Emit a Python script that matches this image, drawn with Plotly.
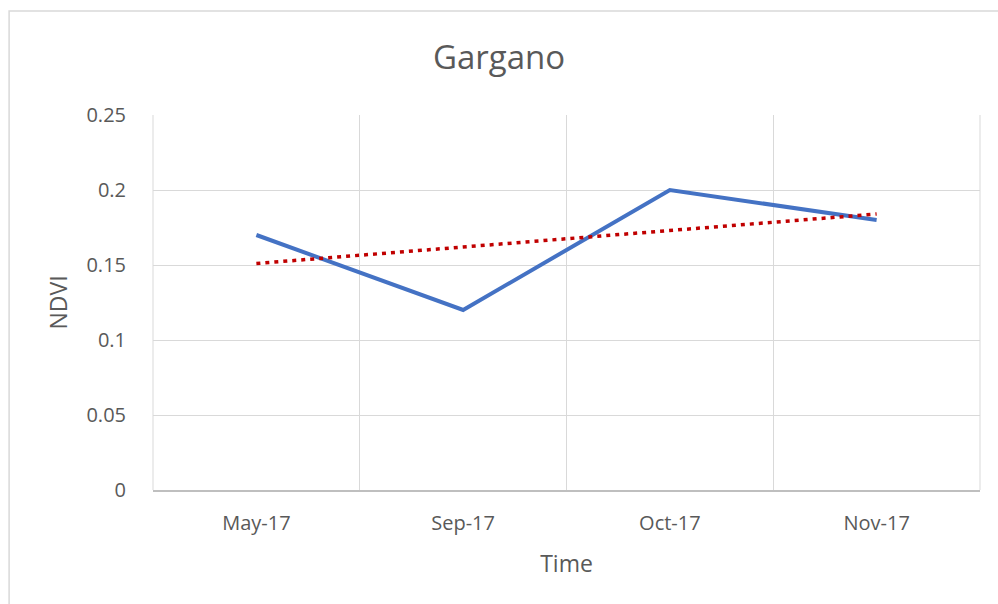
import numpy as np
import plotly.graph_objects as go

# NDVI readings for the Gargano site
months = ["May-17", "Sep-17", "Oct-17", "Nov-17"]
ndvi = [0.17, 0.12, 0.20, 0.18]
y_ticks = [0, 0.05, 0.1, 0.15, 0.2, 0.25]
y_tick_text = ["0", "0.05", "0.1", "0.15", "0.2", "0.25"]

# Linear trend fitted over category index
idx = np.arange(len(ndvi))
slope, intercept = np.polyfit(idx, ndvi, 1)
trend = slope * idx + intercept

FONT = "Open Sans"
TXT = "#595959"
GRID = "#D9D9D9"

fig = go.Figure()
fig.add_trace(go.Scatter(
    x=months, y=ndvi, mode="lines",
    line=dict(color="#4472C4", width=4),
    showlegend=False,
))
fig.add_trace(go.Scatter(
    x=months, y=list(trend), mode="lines",
    line=dict(color="#C00000", width=3.5, dash="4px,5px"),
    showlegend=False,
))

fig.update_layout(
    width=998, height=604,
    margin=dict(l=153, r=18, t=115, b=114),
    paper_bgcolor="white", plot_bgcolor="white",
    font=dict(family=FONT, color=TXT, size=20),
    title=dict(text="Gargano", x=0.5, xanchor="center", y=0.905, yanchor="middle",
               font=dict(size=33, color=TXT, family=FONT)),
    xaxis=dict(
        type="category", tickson="boundaries", range=[-0.5, 3.5],
        showgrid=True, gridcolor=GRID, gridwidth=1,
        showline=True, linecolor="#BFBFBF", linewidth=1.5, mirror=False,
        ticks="", ticklabelstandoff=14,
        tickfont=dict(size=20, color=TXT),
        title=dict(text="Time", font=dict(size=23, color=TXT), standoff=21),
        zeroline=False,
    ),
    yaxis=dict(
        range=[0, 0.25], tickvals=y_ticks, ticktext=y_tick_text,
        showgrid=True, gridcolor=GRID, gridwidth=1,
        zeroline=False, showline=False,
        ticks="outside", ticklen=22, tickcolor="rgba(0,0,0,0)",
        tickfont=dict(size=20, color=TXT),
        title=dict(text="NDVI", font=dict(size=23, color=TXT), standoff=12),
    ),
    shapes=[
        # chart frame
        dict(type="rect", xref="paper", yref="paper",
             x0=-0.174, x1=1.05, y0=-0.35, y1=1.2773,
             line=dict(color="#D9D9D9", width=1.5), fillcolor="rgba(0,0,0,0)", layer="below"),
        # plot-area side edges
        dict(type="line", xref="paper", yref="paper", x0=0, x1=0, y0=0, y1=1,
             line=dict(color=GRID, width=1), layer="below"),
        dict(type="line", xref="paper", yref="paper", x0=1, x1=1, y0=0, y1=1,
             line=dict(color=GRID, width=1), layer="below"),
    ],
)

fig.write_html("out.html")
